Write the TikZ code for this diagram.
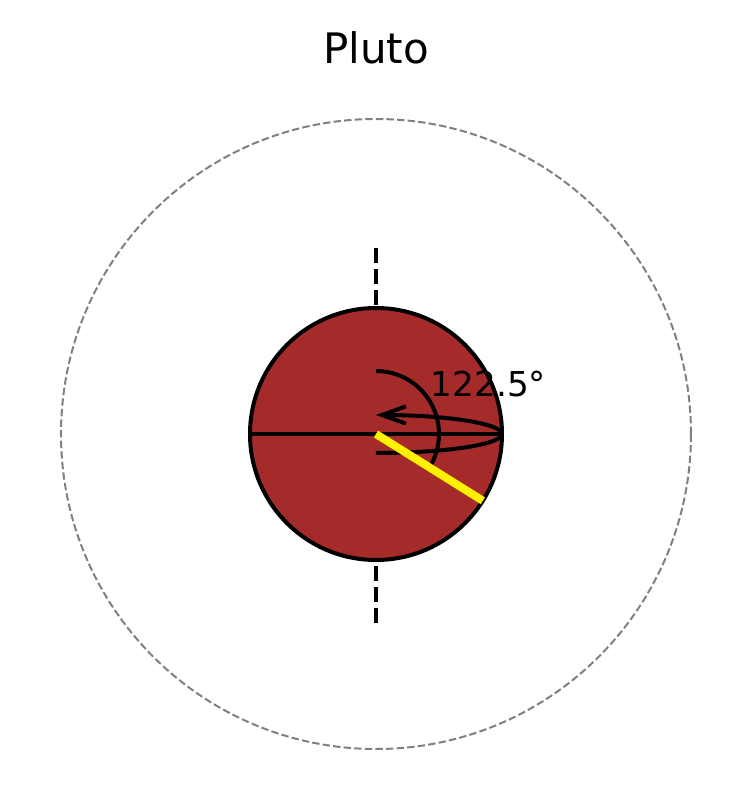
\documentclass[tikz,border=0pt]{standalone}
\usepackage{fontspec}
\setmainfont{DejaVu Sans}
\usepackage{xcolor}
\usepackage{tikz}
\usetikzlibrary{arrows.meta, positioning, calc}
\definecolor{plutobrown}{HTML}{A52A2A}
\tikzset{
	orbitring/.style={draw=gray, line width=1.5pt, dash pattern=on 5.55pt off 2.4pt},
	spinaxis/.style={line width=3pt, dash pattern=on 11.1pt off 4.8pt},
	planetdisc/.style={circle, draw, line width=3pt, fill=plutobrown, inner sep=0pt, outer sep=0pt, minimum size=189pt},
	rotarr/.style={line width=3pt, -{Straight Barb[length=18pt, width=13pt]}},
	tiltline/.style={line width=6pt, draw=yellow},
	titlefont/.style={font=\fontsize{31.5}{36}\selectfont, inner sep=0pt},
	anglefont/.style={font=\fontsize{25.7}{30}\selectfont, inner sep=0pt},
}

\begin{document}
\begin{tikzpicture}[x=0.75pt, y=0.75pt]
	\useasboundingbox (-376,-377) rectangle (377,434);
	\coordinate (c) at (0,0);
	\coordinate (axisS) at (0,-189);
	\coordinate (axisN) at (0,189);
	% orbit and spin axis
	\draw[orbitring] (c) circle (315);
	\draw[spinaxis] (axisS) -- (axisN);
	\node[planetdisc] (pluto) at (c) {};
	\draw[line width=3pt] (pluto.west) -- (pluto.east);
	% obliquity
	\draw[line width=3pt] (0,63) arc[start angle=90, end angle=-32.5, radius=63];
	\draw[rotarr] (0,-19) arc[start angle=-90, end angle=90, x radius=126, y radius=19];
	\draw[tiltline] (c) -- (pluto.-32.5);
	\node[anglefont, anchor=base west] (ang) at (54.5,37.3) {122.5°};
	\node[titlefont, anchor=base] (title) at (0,370.7) {Pluto};
\end{tikzpicture}
\end{document}
